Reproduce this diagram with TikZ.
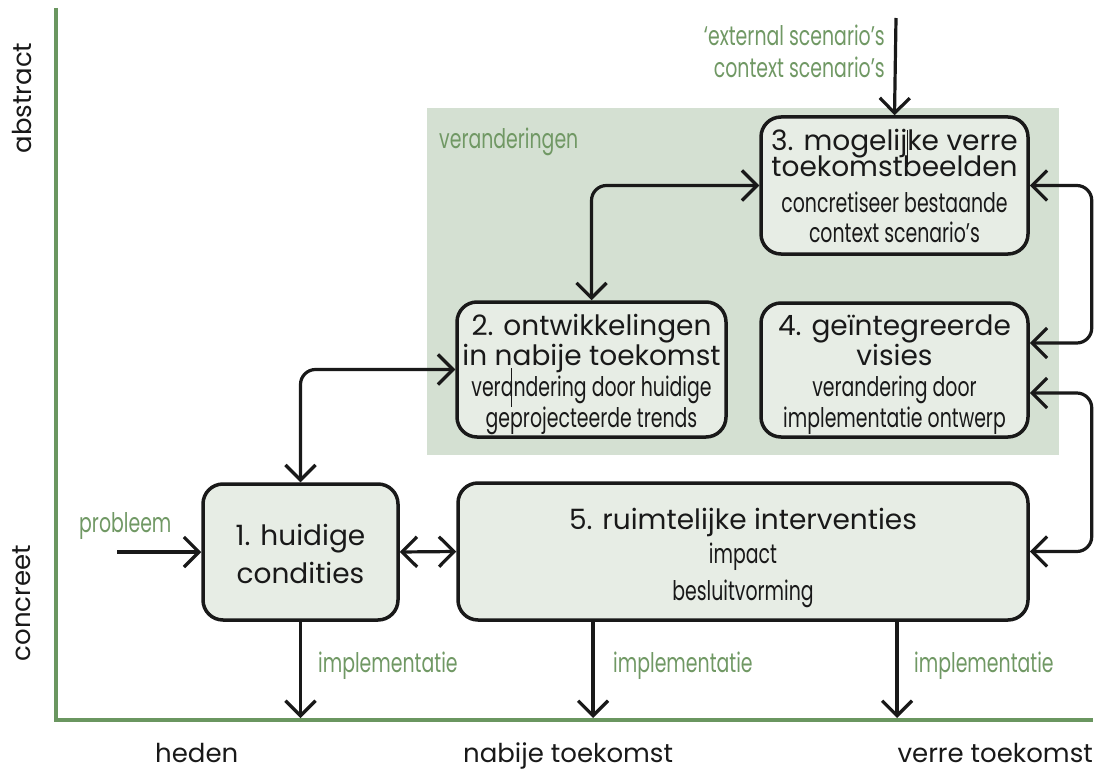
\documentclass[tikz,border=0pt]{standalone}
\usepackage{fontspec}
\setmainfont{Poppins}
\newfontfamily\condf{Poppins}[FakeStretch=0.70]
\usetikzlibrary{arrows.meta,calc}
\definecolor{axgreen}{RGB}{106,150,96}
\definecolor{txtgreen}{RGB}{112,152,100}
\definecolor{shadegreen}{RGB}{212,224,210}
\definecolor{boxfill}{RGB}{231,237,229}
\definecolor{ink}{RGB}{25,25,25}
\begin{document}
\begin{tikzpicture}[x=1pt,y=-1pt,
  box/.style={draw=ink, line width=3.5pt, fill=boxfill, rounded corners=20pt, inner sep=0pt},
  ttl/.style={anchor=base, inner sep=0pt, font=\fontsize{28}{28}\selectfont, text=ink},
  sub/.style={anchor=base, inner sep=0pt, font=\condf\fontsize{27}{27}\selectfont, text=ink},
  glab/.style={anchor=base west, inner sep=0pt, font=\condf\fontsize{27}{27}\selectfont, text=txtgreen},
  axlab/.style={inner sep=0pt, font=\fontsize{26}{26}\selectfont, text=ink},
  conn/.style={draw=ink, line width=3.2pt, rounded corners=15pt},
  arr/.style={conn, -{Straight Barb[length=15pt,width=30pt]}},
  dbl/.style={conn, {Straight Barb[length=15pt,width=30pt]}-{Straight Barb[length=15pt,width=30pt]}},
  axisline/.style={draw=axgreen, line width=4pt},
]
\useasboundingbox (0,0) rectangle (1097,773);
\fill[shadegreen] (427,108) rectangle (1059,455);
\draw[axisline] (56,8) -- (56,720) -- (1093,720);

% boxes
\node[box, minimum width=267pt, minimum height=137pt] (b3) at (894.5,185.5) {};
\node[box, minimum width=269pt, minimum height=135pt] (b2) at (591.5,369.5) {};
\node[box, minimum width=267pt, minimum height=134pt] (b4) at (894.5,370) {};
\node[box, minimum width=195pt, minimum height=136pt] (b1) at (300.5,552) {};
\node[box, minimum width=570pt, minimum height=137pt] (b5) at (743,551.5) {};

% box texts
\node[ttl] (b3a) at (894.5,150) {3. mogelijke verre};
\node[ttl] (b3b) at (894.5,176) {toekomstbeelden};
\node[sub] (b3c) at (894.5,212) {concretiseer bestaande};
\node[sub] (b3d) at (894.5,242) {context scenario’s};
\node[ttl] (b2a) at (591.5,335) {2. ontwikkelingen};
\node[ttl] (b2b) at (591.5,365) {in nabije toekomst};
\node[sub] (b2c) at (591.5,396) {verandering door huidige};
\node[sub] (b2d) at (591.5,427) {geprojecteerde trends};
\node[ttl] (b4a) at (894.5,335) {4. geïntegreerde};
\node[ttl] (b4b) at (894.5,365) {visies};
\node[sub] (b4c) at (894.5,396) {verandering door};
\node[sub] (b4d) at (894.5,427) {implementatie ontwerp};
\node[ttl] (b1a) at (300.5,545) {1. huidige};
\node[ttl] (b1b) at (300.5,583) {condities};
\node[ttl] (b5a) at (743,529) {5. ruimtelijke interventies};
\node[sub] (b5b) at (743,563) {impact};
\node[sub] (b5c) at (743,600) {besluitvorming};
% cursor marks in the scan
\draw[ink, line width=0.8pt] (511,368) -- (511,407);
\draw[ink, line width=0.8pt] (907,130) -- (907,167);

% labels
\node[glab] (ver) at (439,148) {veranderingen};
\node[glab, anchor=base east] (ext1) at (885,46) {‘external scenario’s};
\node[glab, anchor=base east] (ext2) at (885,78) {context scenario’s};
\node[glab] (prob) at (79,532) {probleem};
\node[glab] (imp1) at (318,672) {implementatie};
\node[glab] (imp2) at (613,672) {implementatie};
\node[glab] (imp3) at (914,672) {implementatie};
\node[axlab, anchor=base west] (heden) at (155,762) {heden};
\node[axlab, anchor=base west] (nabij) at (463,762) {nabije toekomst};
\node[axlab, anchor=base east] (verre) at (1093,762) {verre toekomst};
\node[axlab, rotate=90] (abstr) at (22,98) {abstract};
\node[axlab, rotate=90] (concr) at (22,603) {concreet};

% connectors
\coordinate (topin) at (896,18);
\coordinate (probin) at (117,552);
\coordinate (i1) at (300.5,718);
\coordinate (i2) at (593,718);
\coordinate (i3) at (897,718);
\draw[arr] (topin) -- (b3.north);
\draw[arr] (probin) -- (b1.west);
\draw[dbl] (b2.north) |- (b3.west);
\draw[dbl] (b1.north) |- (b2.west);
\draw[dbl] (b3.east) -- ++(62,0) |- ($(b4.east)+(0,-27)$);
\draw[dbl] ($(b4.east)+(0,23)$) -- ++(62,0) |- (b5.east);
\draw[dbl] (b1.east) -- (b5.west);
\draw[arr] (b1.south) -- (i1);
\draw[arr] (b5.south -| i2) -- (i2);
\draw[arr] (b5.south -| i3) -- (i3);
\end{tikzpicture}
\end{document}
